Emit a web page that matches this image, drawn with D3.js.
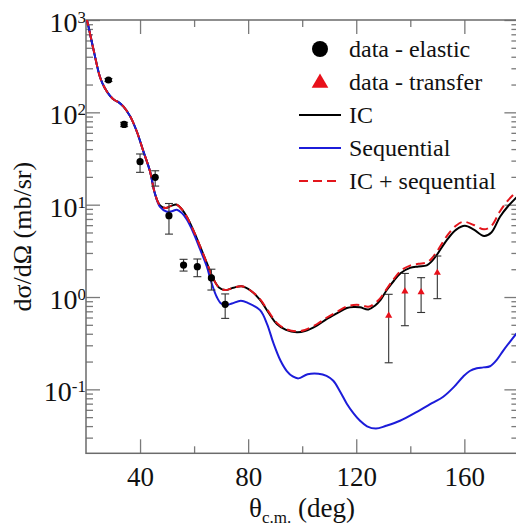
<!DOCTYPE html>
<html>
<head>
<meta charset="utf-8">
<script src="https://cdn.jsdelivr.net/npm/d3@7"></script>
<style>
  html, body { margin: 0; padding: 0; background: #fff; }
  #chart { width: 516px; height: 526px; overflow: hidden; }
  .lbl { font-family: "Liberation Serif"; }
</style>
</head>
<body>
<div id="chart"></div>
<script>
// ---- data ----
const icTheta = [20, 20.5, 22.7, 25.2, 27, 28.9, 30.5, 32, 33.8, 36.3, 38.8, 41.2, 43.7, 45.5, 47.4, 49.5, 51.5, 53.6, 55.5, 57.3, 59.7, 62.2, 64.7, 67.1, 69.2, 71.5, 74.5, 77.6, 81, 84.4, 87.5, 90.6, 94, 98, 101, 105.4, 109, 112.8, 116.5, 119, 121.4, 124.5, 127, 129, 131.3, 134, 136.5, 139.9, 143, 146.1, 148, 149.8, 153.5, 157, 160.2, 163.5, 167.3, 170, 173.2, 176, 180];
const icValues = [1070, 955, 490, 240, 182, 151, 136, 129, 116, 91, 62, 38, 22.9, 13.2, 9.8, 9.2, 9.7, 10.0, 8.9, 7.4, 5.3, 3.55, 2.34, 1.58, 1.27, 1.19, 1.26, 1.31, 1.17, 0.93, 0.68, 0.51, 0.44, 0.415, 0.427, 0.49, 0.575, 0.665, 0.76, 0.78, 0.773, 0.733, 0.81, 0.93, 1.19, 1.51, 1.82, 2.07, 2.14, 2.2, 2.45, 2.85, 4.14, 5.37, 5.9, 5.37, 4.58, 5.0, 7.4, 9.5, 12.6];

const sumTheta = [20, 20.5, 22.7, 25.2, 27, 28.9, 30.5, 32, 33.8, 36.3, 38.8, 41.2, 43.7, 45.5, 47.4, 49.5, 51.5, 53.6, 55.5, 57.3, 59.7, 62.2, 64.7, 67.1, 69.2, 71.5, 74.5, 77.6, 81, 84.4, 87.5, 90.6, 94, 98, 101, 105.4, 109, 112.8, 116.5, 119, 121.4, 124.5, 127, 129, 131.3, 134, 136.5, 139.9, 143, 146.1, 148, 149.8, 153.5, 157, 159.6, 163.5, 167.3, 170, 173.2, 176, 180];
const sumValues = [1070, 955, 490, 240, 182, 151, 136, 129, 116, 91, 62, 38, 22.9, 13.2, 9.8, 9.2, 9.7, 10.0, 8.9, 7.4, 5.3, 3.55, 2.34, 1.58, 1.27, 1.19, 1.26, 1.31, 1.17, 0.95, 0.70, 0.525, 0.45, 0.425, 0.44, 0.507, 0.596, 0.69, 0.79, 0.82, 0.82, 0.785, 0.86, 0.98, 1.23, 1.58, 1.93, 2.19, 2.29, 2.37, 2.63, 3.09, 4.57, 5.96, 6.53, 6.03, 5.41, 5.89, 8.5, 11.0, 14.5];

const seqTheta = [20, 20.5, 22.7, 25.2, 27, 28.9, 30.5, 32, 33.8, 36.3, 38.8, 41.2, 43.7, 45.5, 47.4, 49.9, 51.8, 53.6, 55.5, 57.3, 59.7, 62.2, 64.7, 66.5, 68.4, 70, 71.8, 74, 77.3, 80, 84.4, 87, 89.3, 92, 94.3, 96.5, 98.6, 102, 106, 109, 111.5, 114, 116.5, 119, 121.4, 124, 127.3, 131, 136.2, 143.6, 148, 152.2, 156, 159.6, 162, 164.6, 167, 169.5, 172, 174.4, 177, 180];
const seqValues = [1070, 955, 490, 240, 182, 151, 136, 129, 116, 91, 62, 38, 22.9, 13.2, 9.44, 8.4, 8.5, 8.8, 8.1, 6.9, 5.0, 3.3, 2.14, 1.41, 1.0, 0.85, 0.82, 0.85, 0.91, 0.86, 0.72, 0.51, 0.32, 0.204, 0.158, 0.138, 0.1315, 0.146, 0.148, 0.14, 0.124, 0.095, 0.07, 0.055, 0.0457, 0.0398, 0.0376, 0.0403, 0.0457, 0.0597, 0.0708, 0.0832, 0.105, 0.138, 0.158, 0.169, 0.173, 0.178, 0.209, 0.263, 0.331, 0.427];

const elasticTheta = [28.3, 34.1, 40.0, 45.6, 50.7, 56.1, 61.2, 66.4, 71.5];
const elasticValues = [224, 74, 29.2, 19.8, 7.6, 2.22, 2.13, 1.61, 0.834];
const elasticLow = [216, 70, 22.4, 15.9, 4.8, 1.91, 1.66, 1.19, 0.587];
const elasticHigh = [232, 78, 35.4, 23.3, 10.3, 2.56, 2.58, 2.0, 1.08];

const transferTheta = [132, 138, 144, 150];
const transferValues = [0.627, 1.15, 1.13, 1.83];
const transferLow = [0.194, 0.489, 0.68, 0.96];
const transferHigh = [1.07, 1.80, 1.62, 2.78];

const xMajorTicks = [40, 80, 120, 160];
const xMinorTicks = [60, 100, 140];
const yDecades = [-1, 0, 1, 2, 3];

const legendLabels = ["data - elastic", "data - transfer", "IC", "Sequential", "IC + sequential"];

const SERIF = '"Liberation Serif"';

class CrossSectionChart {
  constructor(id) {
    this._id = id;
    this.colorPalette = {
      ic: "#000000",
      seq: "#1c1cd9",
      sum: "#e3161c",
      transfer: "#e8101a",
      axis: "#6b6b6b",
      ticks: "#7a7a7a",
      error: "#333333",
      text: "#111111",
    };
    this.config = {
      width: 516,
      height: 526,
      left: 86,
      top: 20,
      bottom: 453.3,
      right: 518.4, // 180 deg sits just past the cropped edge
      majorTick: 14,
      minorTick: 7,
    };
  }

  // every text of the chart goes through here so the serif face sticks
  Label(sel, size) {
    return sel.attr("class", "lbl")
      .style("font-family", SERIF)
      .style("font-size", `${size}px`)
      .attr("fill", this.colorPalette.text);
  }

  SetupLayout() {
    this._svg = d3.select(`#${this._id}`)
      .append("svg")
      .attr("width", this.config.width)
      .attr("height", this.config.height);
    this._svg.append("defs").append("clipPath").attr("id", "plotClip")
      .append("rect")
      .attr("x", this.config.left)
      .attr("y", this.config.top)
      .attr("width", this.config.right - this.config.left)
      .attr("height", this.config.bottom - this.config.top);
  }

  SetupScales() {
    this._x = d3.scaleLinear().domain([20, 180]).range([this.config.left, this.config.right]);
    this._y = d3.scaleLog().domain([0.0203, 1000]).range([this.config.bottom, this.config.top]);
  }

  SetupXAxis() {
    const c = this.config;
    const svg = this._svg;
    svg.append("g").attr("class", "xMajor")
      .attr("transform", `translate(0,${c.bottom})`)
      .call(d3.axisBottom(this._x).tickValues(xMajorTicks).tickSizeInner(-c.majorTick).tickSizeOuter(0).tickPadding(14).tickFormat(d3.format("d")));
    svg.append("g").attr("class", "xMinor")
      .attr("transform", `translate(0,${c.bottom})`)
      .call(d3.axisBottom(this._x).tickValues(xMinorTicks).tickSizeInner(-c.minorTick).tickSizeOuter(0).tickFormat(""));
    svg.append("g").attr("class", "xTopMajor")
      .attr("transform", `translate(0,${c.top})`)
      .call(d3.axisTop(this._x).tickValues(xMajorTicks).tickSizeInner(-c.majorTick).tickSizeOuter(0).tickFormat(""));
    svg.append("g").attr("class", "xTopMinor")
      .attr("transform", `translate(0,${c.top})`)
      .call(d3.axisTop(this._x).tickValues(xMinorTicks).tickSizeInner(-c.minorTick).tickSizeOuter(0).tickFormat(""));

    svg.selectAll(".xMajor").attr("font-family", null).attr("font-size", null);
    this.Label(svg.selectAll(".xMajor text"), 27);

    const t = this.Label(svg.append("text"), 27)
      .attr("x", 302)
      .attr("y", 517)
      .attr("text-anchor", "middle");
    t.append("tspan").text("θ");
    t.append("tspan").text("c.m.").style("font-size", "17px").attr("dy", 6);
    t.append("tspan").text(" (deg)").attr("dy", -6);
  }

  SetupYAxis() {
    const c = this.config;
    const svg = this._svg;
    const majors = yDecades.map((e) => Math.pow(10, e));
    const minors = [];
    [-2, -1, 0, 1, 2].forEach((e) => {
      for (let m = 2; m <= 9; m++) minors.push(m * Math.pow(10, e));
    });
    const inRange = minors.filter((v) => v >= 0.0203 && v <= 1000);

    svg.append("g").attr("class", "yMajor")
      .attr("transform", `translate(${c.left},0)`)
      .call(d3.axisLeft(this._y).tickValues(majors).tickSizeInner(-c.majorTick).tickSizeOuter(0).tickFormat(""));
    svg.append("g").attr("class", "yMinor")
      .attr("transform", `translate(${c.left},0)`)
      .call(d3.axisLeft(this._y).tickValues(inRange).tickSizeInner(-c.minorTick).tickSizeOuter(0).tickFormat(""));
    svg.append("g").attr("class", "yRightMajor")
      .attr("transform", `translate(${c.right},0)`)
      .call(d3.axisRight(this._y).tickValues(majors).tickSizeInner(-c.majorTick).tickSizeOuter(0).tickFormat(""));
    svg.append("g").attr("class", "yRightMinor")
      .attr("transform", `translate(${c.right},0)`)
      .call(d3.axisRight(this._y).tickValues(inRange).tickSizeInner(-c.minorTick).tickSizeOuter(0).tickFormat(""));

    // 10^n labels
    yDecades.forEach((e) => {
      const t = this.Label(svg.append("text"), 28)
        .attr("x", 86)
        .attr("y", this._y(Math.pow(10, e)) + 12)
        .attr("text-anchor", "end");
      t.append("tspan").text("10");
      t.append("tspan").text(e).style("font-size", "17px").attr("dy", -9);
    });

    this.Label(svg.append("text"), 26)
      .attr("transform", `translate(31,${(c.top + c.bottom) / 2}) rotate(-90)`)
      .attr("text-anchor", "middle")
      .text("dσ/dΩ (mb/sr)");
  }

  StyleAxes() {
    const c = this.config;
    this._svg.selectAll(".domain").remove();
    this._svg.selectAll(".tick line")
      .attr("stroke", this.colorPalette.ticks)
      .attr("stroke-width", 1.3);
    this._svg.append("rect")
      .attr("x", c.left)
      .attr("y", c.top)
      .attr("width", c.right - c.left)
      .attr("height", c.bottom - c.top)
      .attr("fill", "none")
      .attr("stroke", this.colorPalette.axis)
      .attr("stroke-width", 1.5);
  }

  DrawCurve(thetas, values, color, dash) {
    const line = d3.line()
      .x((d) => this._x(d[0]))
      .y((d) => this._y(d[1]))
      .curve(d3.curveCatmullRom.alpha(0.5));
    this._svg.append("path")
      .datum(thetas.map((t, i) => [t, values[i]]))
      .attr("clip-path", "url(#plotClip)")
      .attr("d", line)
      .attr("fill", "none")
      .attr("stroke", color)
      .attr("stroke-width", 2)
      .attr("stroke-dasharray", dash || null);
  }

  DrawErrorBars(thetas, low, high) {
    const g = this._svg.append("g")
      .attr("stroke", this.colorPalette.error)
      .attr("stroke-width", 1.1);
    thetas.forEach((t, i) => {
      const x = this._x(t);
      const y1 = this._y(low[i]);
      const y2 = this._y(high[i]);
      g.append("line").attr("x1", x).attr("x2", x).attr("y1", y1).attr("y2", y2);
      g.append("line").attr("x1", x - 4).attr("x2", x + 4).attr("y1", y1).attr("y2", y1);
      g.append("line").attr("x1", x - 4).attr("x2", x + 4).attr("y1", y2).attr("y2", y2);
    });
  }

  DrawPoints() {
    this.DrawErrorBars(elasticTheta, elasticLow, elasticHigh);
    this.DrawErrorBars(transferTheta, transferLow, transferHigh);

    this._svg.append("g")
      .selectAll("circle")
      .data(elasticTheta)
      .enter()
      .append("circle")
      .attr("cx", (d) => this._x(d))
      .attr("cy", (d, i) => this._y(elasticValues[i]))
      .attr("r", 3.6)
      .attr("fill", "#000");

    const tri = d3.symbol().type(d3.symbolTriangle).size(22);
    this._svg.append("g")
      .selectAll("path")
      .data(transferTheta)
      .enter()
      .append("path")
      .attr("d", tri)
      .attr("transform", (d, i) => `translate(${this._x(d)},${this._y(transferValues[i])})`)
      .attr("fill", this.colorPalette.transfer);
  }

  DrawLegend() {
    const g = this._svg.append("g").attr("class", "legend");
    const rowY = (i) => 49 + i * 33;
    g.append("circle").attr("cx", 320).attr("cy", rowY(0)).attr("r", 8).attr("fill", "#000");
    g.append("path")
      .attr("d", d3.symbol().type(d3.symbolTriangle).size(120))
      .attr("transform", `translate(320,${rowY(1) + 1})`)
      .attr("fill", this.colorPalette.transfer);
    const lines = [
      { color: this.colorPalette.ic, dash: null },
      { color: this.colorPalette.seq, dash: null },
      { color: this.colorPalette.sum, dash: "9,5" },
    ];
    lines.forEach((l, k) => {
      g.append("line")
        .attr("x1", 299).attr("x2", 341)
        .attr("y1", rowY(k + 2)).attr("y2", rowY(k + 2))
        .attr("stroke", l.color)
        .attr("stroke-width", 2)
        .attr("stroke-dasharray", l.dash);
    });
    legendLabels.forEach((s, i) => {
      this.Label(g.append("text"), 24)
        .attr("x", 349)
        .attr("y", rowY(i) + 8)
        .text(s);
    });
  }

  DrawChart() {
    this.SetupLayout();
    this.SetupScales();
    this.SetupXAxis();
    this.SetupYAxis();
    this.StyleAxes();
    this.DrawCurve(icTheta, icValues, this.colorPalette.ic);
    this.DrawCurve(seqTheta, seqValues, this.colorPalette.seq);
    this.DrawCurve(sumTheta, sumValues, this.colorPalette.sum, "9,5");
    this.DrawPoints();
    this.DrawLegend();
  }
}

new CrossSectionChart("chart").DrawChart();
</script>
</body>
</html>
